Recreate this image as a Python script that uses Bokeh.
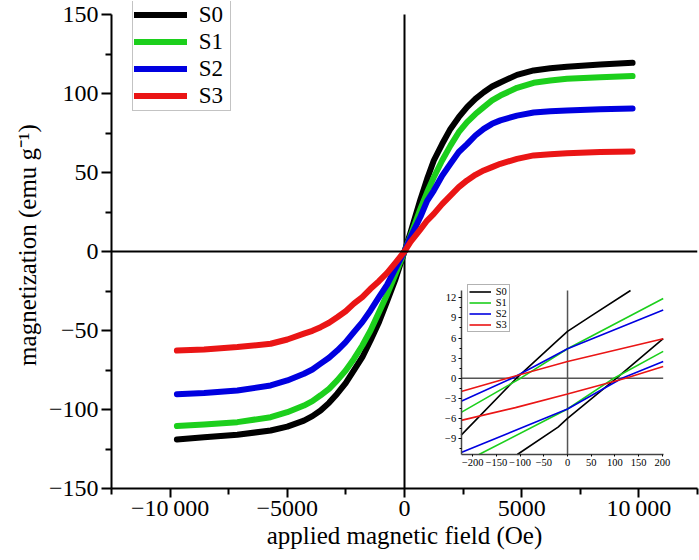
from bokeh.plotting import figure
from bokeh.models import Range1d, LinearAxis, FixedTicker, Span, Legend, LegendItem
from bokeh.embed import file_html
from bokeh.resources import INLINE

# ---------------- data ----------------
series_names = ["S0", "S1", "S2", "S3"]
colors = ["#000000", "#1ccf1c", "#0000e0", "#ea1515"]

# main loop (Oe, emu/g)
main_field = [-9710, -8550, -7130, -5710, -5000, -4290, -3930, -3580, -3220, -2870, -2510,
              -2160, -1800, -1450, -1090, -740, -380, 0,
              256, 680, 966, 1250, 1605, 1960, 2315, 2670, 3025, 3380, 3735, 4090,
              4800, 5510, 6220, 6930, 8350, 9730]
main_S0 = [-119.0, -117.5, -116.0, -113.3, -110.8, -107.0, -104.2, -100.6, -95.8, -90.0, -83.3,
           -75.3, -66.9, -56.3, -44.7, -31.5, -17.3, 0.0,
           12.0, 33.0, 46.0, 57.6, 68.0, 77.6, 85.0, 91.4, 96.6, 100.8, 104.4, 107.0,
           111.8, 114.6, 116.0, 117.0, 118.4, 119.4]
main_S1 = [-110.5, -109.5, -108.0, -104.9, -101.7, -97.5, -94.7, -91.0, -86.9, -81.6, -75.3,
           -68.0, -59.5, -50.0, -38.4, -27.0, -14.1, 0.0,
           10.0, 27.0, 37.5, 47.0, 57.6, 67.0, 75.5, 81.9, 87.0, 91.4, 95.6, 98.7,
           103.6, 106.8, 108.2, 109.3, 110.3, 111.0]
main_S2 = [-90.3, -89.5, -88.0, -84.8, -81.6, -77.4, -74.7, -71.0, -67.3, -62.7, -57.4,
           -51.0, -44.7, -37.3, -28.9, -21.0, -10.5, 0.0,
           9.0, 22.0, 32.0, 38.6, 48.0, 55.5, 63.0, 68.0, 73.4, 77.6, 80.8, 83.0,
           86.0, 88.0, 88.8, 89.2, 90.0, 90.5]
main_S3 = [-62.7, -62.0, -60.5, -58.4, -55.7, -52.0, -50.2, -47.9, -45.1, -41.6, -37.8,
           -33.0, -28.9, -23.6, -18.8, -13.5, -7.0, 0.0,
           6.0, 14.0, 19.6, 23.8, 30.0, 35.4, 40.7, 45.0, 48.5, 51.3, 53.4, 55.5,
           58.6, 60.8, 61.6, 62.2, 62.9, 63.3]
main_values = [main_S0, main_S1, main_S2, main_S3]

# inset: low-field branches (Oe, emu/g)
inset_S0_up_x = [-224.5, -107.7, -25, 0, 50, 133]
inset_S0_up_y = [-8.5, 0.0, 5.4, 7.0, 9.3, 13.1]
inset_S0_dn_x = [-106, -20, 0, 103.5, 202]
inset_S0_dn_y = [-11.4, -7.3, -6.0, 0.0, 5.9]
inset_S1_up_x = [-224.5, -99, 0, 202]
inset_S1_up_y = [-5.1, 0.0, 4.4, 11.9]
inset_S1_dn_x = [-187, 0, 98, 202]
inset_S1_dn_y = [-11.4, -4.6, 0.0, 4.0]
inset_S2_up_x = [-224.5, -117, 0, 202]
inset_S2_up_y = [-3.45, 0.0, 4.4, 10.2]
inset_S2_dn_x = [-224.5, 0, 115, 202]
inset_S2_dn_y = [-11.1, -4.6, 0.0, 2.5]
inset_S3_up_x = [-224.5, -127, 0, 202]
inset_S3_up_y = [-2.0, 0.0, 2.5, 5.9]
inset_S3_dn_x = [-224.5, -110, 0, 122.5, 202]
inset_S3_dn_y = [-6.3, -4.4, -2.35, 0.0, 1.75]
inset_up = [(inset_S0_up_x, inset_S0_up_y), (inset_S1_up_x, inset_S1_up_y),
            (inset_S2_up_x, inset_S2_up_y), (inset_S3_up_x, inset_S3_up_y)]
inset_dn = [(inset_S0_dn_x, inset_S0_dn_y), (inset_S1_dn_x, inset_S1_dn_y),
            (inset_S2_dn_x, inset_S2_dn_y), (inset_S3_dn_x, inset_S3_dn_y)]

# ticks
x_major = [-10000, -5000, 0, 5000, 10000]
x_minor = [-12500, -7500, -2500, 2500, 7500, 12500]
x_labels = ["\u221210\u2009000", "\u22125000", "0", "5000", "10\u2009000"]
y_major = [-150, -100, -50, 0, 50, 100, 150]
y_minor = [-125, -75, -25, 25, 75, 125]
y_labels = ["\u2212150", "\u2212100", "\u221250", "0", "50", "100", "150"]
ix_major = [-200, -150, -100, -50, 0, 50, 100, 150, 200]
ix_labels = ["\u2212200", "\u2212150", "\u2212100", "\u221250", "0", "50", "100", "150", "200"]
iy_major = [-9, -6, -3, 0, 3, 6, 9, 12]
iy_minor = [-10.5, -7.5, -4.5, -1.5, 1.5, 4.5, 7.5, 10.5]
iy_labels = ["\u22129", "\u22126", "\u22123", "0", "3", "6", "9", "12"]

X_LIM = (-12500, 12500)
Y_LIM = (-150, 150)
IX_LIM = (-224.5, 202)
IY_LIM = (-11.4, 13.1)

# ---------------- layout (screen px) ----------------
W, H = 699, 560
FL, FR, FT, FB = 111, 697, 1, 488          # frame edges inside the figure
AXIS_TOP = 14                              # where Y_LIM[1] lands
IL, IR, IT, IB = 460.7, 662.7, 290, 454    # inset axes box inside the figure

FONT = "Liberation Serif"

y_per_px = (Y_LIM[1] - Y_LIM[0]) / (FB - AXIS_TOP)
p = figure(width=W, height=H, output_backend="svg", toolbar_location=None,
           x_range=Range1d(*X_LIM),
           y_range=Range1d(Y_LIM[0], Y_LIM[1] + (AXIS_TOP - FT) * y_per_px),
           x_axis_type=None, y_axis_type=None,
           min_border_left=FL, min_border_right=W - FR,
           min_border_top=FT, min_border_bottom=H - FB)
p.outline_line_color = None
p.grid.visible = False
p.background_fill_color = "white"
p.border_fill_color = "white"

# extra ranges for inset, so that IX_LIM/IY_LIM land on the inset box
sx = (IR - IL) / (IX_LIM[1] - IX_LIM[0])
sy = (IB - IT) / (IY_LIM[1] - IY_LIM[0])
p.extra_x_ranges = {"ix": Range1d(IX_LIM[0] - (IL - FL) / sx, IX_LIM[1] + (FR - IR) / sx)}
p.extra_y_ranges = {"iy": Range1d(IY_LIM[0] - (FB - IB) / sy, IY_LIM[1] + (IT - FT) / sy)}


def style_axis(ax, size, tick_out, minor_out, standoff, lw):
    ax.axis_line_color = "black"
    ax.axis_line_width = lw
    ax.major_tick_line_color = "black"
    ax.minor_tick_line_color = "black"
    ax.major_tick_line_width = lw
    ax.minor_tick_line_width = lw
    ax.major_tick_in = 0
    ax.major_tick_out = tick_out
    ax.minor_tick_in = 0
    ax.minor_tick_out = minor_out
    ax.major_label_text_font = FONT
    ax.major_label_text_font_size = size
    ax.major_label_text_color = "black"
    ax.major_label_standoff = standoff
    ax.axis_label_text_font = FONT
    ax.axis_label_text_font_style = "normal"
    ax.axis_label_text_color = "black"


xax = LinearAxis(ticker=FixedTicker(ticks=x_major, minor_ticks=x_minor),
                 axis_label="applied magnetic field (Oe)")
xax.major_label_overrides = dict(zip(x_major, x_labels))
style_axis(xax, "24px", 9, 6, -3, 2)
xax.axis_label_text_font_size = "25px"
xax.axis_label_standoff = -2
p.add_layout(xax, "below")

yax = LinearAxis(ticker=FixedTicker(ticks=y_major, minor_ticks=y_minor),
                 axis_label="magnetization (emu g\u207b\u00b9)", bounds=Y_LIM)
yax.major_label_overrides = dict(zip(y_major, y_labels))
style_axis(yax, "24px", 10, 6, 3, 2)
yax.axis_label_text_font_size = "25px"
yax.axis_label_standoff = 5
p.add_layout(yax, "left")

# main zero lines
p.segment(x0=[0], y0=[Y_LIM[0]], x1=[0], y1=[Y_LIM[1]], line_color="black", line_width=2)
p.add_layout(Span(location=0, dimension="width", line_color="black", line_width=2))

# inset axes
iyax = LinearAxis(x_range_name="ix", y_range_name="iy", fixed_location=IX_LIM[0],
                  bounds=IY_LIM,
                  ticker=FixedTicker(ticks=iy_major, minor_ticks=iy_minor))
iyax.major_label_overrides = dict(zip(iy_major, iy_labels))
style_axis(iyax, "10.5px", 3, 2, 2, 1)
iyax.axis_line_color = "#444444"
iyax.axis_line_width = 1.5
p.add_layout(iyax, "left")

ixax = LinearAxis(x_range_name="ix", y_range_name="iy", fixed_location=IY_LIM[0],
                  bounds=IX_LIM,
                  ticker=FixedTicker(ticks=ix_major, minor_ticks=[]))
ixax.major_label_overrides = dict(zip(ix_major, ix_labels))
style_axis(ixax, "10.5px", 2, 0, 2, 1)
ixax.axis_line_color = "#444444"
ixax.axis_line_width = 1.5
p.add_layout(ixax, "below")

# inset zero lines
p.segment(x0=[0, IX_LIM[0]], y0=[IY_LIM[0], 0], x1=[0, IX_LIM[1]], y1=[IY_LIM[1], 0],
          x_range_name="ix", y_range_name="iy", line_color="#555555", line_width=1.5)

main_items = []
inset_items = []
for name, col, vals, up, dn in zip(series_names, colors, main_values, inset_up, inset_dn):
    r = p.line(main_field, vals, line_color=col, line_width=6,
               line_join="round", line_cap="round")
    main_items.append(LegendItem(label=name, renderers=[r]))
    r1 = p.line(up[0], up[1], x_range_name="ix", y_range_name="iy",
                line_color=col, line_width=1.6)
    p.line(dn[0], dn[1], x_range_name="ix", y_range_name="iy",
           line_color=col, line_width=1.6)
    inset_items.append(LegendItem(label=name, renderers=[r1]))

# main legend
leg = Legend(items=main_items, location=(20.7, 377), orientation="vertical",
             glyph_width=53, glyph_height=27, label_height=27, label_width=30,
             label_standoff=12, spacing=0, padding=1, margin=0,
             label_text_font=FONT, label_text_font_size="23px",
             label_text_color="black", label_text_line_height=1.0,
             border_line_color="#888888", border_line_width=1,
             background_fill_color="white", background_fill_alpha=1)
p.add_layout(leg, "center")

# inset legend
leg2 = Legend(items=inset_items, location=(355.7, 155.7), orientation="vertical",
              glyph_width=22, glyph_height=11, label_height=11, label_width=12,
              label_standoff=5, spacing=0, padding=1, margin=0,
              label_text_font=FONT, label_text_font_size="10.5px",
              label_text_color="black", label_text_line_height=1.0,
              border_line_color="#666666", border_line_width=1,
              background_fill_color="white", background_fill_alpha=1)
p.add_layout(leg2, "center")

open("out.html", "w").write(file_html(p, INLINE))
